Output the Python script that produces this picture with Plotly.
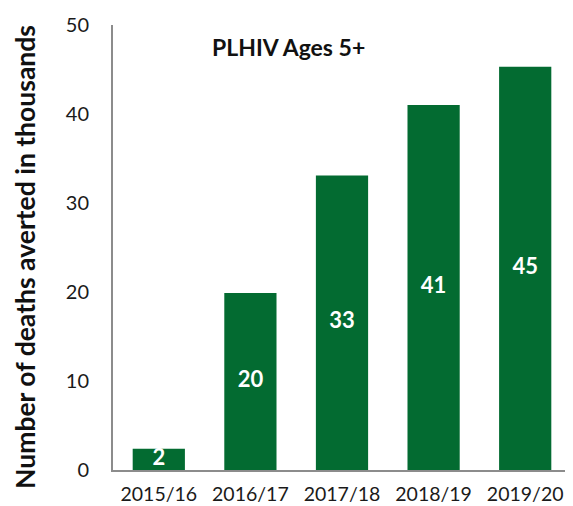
import plotly.graph_objects as go

categories = ["2015/16", "2016/17", "2017/18", "2018/19", "2019/20"]
values = [2.4, 19.9, 33.1, 41.0, 45.3]
labels = ["2", "20", "33", "41", "45"]
y_ticks = [0, 10, 20, 30, 40, 50]

GREEN = "#036B31"
FONT = "Lato, 'Open Sans', sans-serif"

fig = go.Figure()
fig.add_trace(go.Bar(x=categories, y=values, marker_color=GREEN, marker_line_width=0,
                     hoverinfo="skip"))
fig.add_trace(go.Scatter(x=categories, y=[v / 2 for v in values], mode="text", text=labels,
                         textfont=dict(family=FONT, size=22, color="white", weight="bold"),
                         textposition="middle center", hoverinfo="skip"))

# page body has an 8px margin, so the figure is sized 8px smaller
fig.update_layout(
    width=565, height=498,
    margin=dict(l=105, r=2, t=17, b=36),
    plot_bgcolor="white", paper_bgcolor="white",
    showlegend=False, bargap=0.43,
    font=dict(family=FONT, size=20, color="#1a1a1a"),
    xaxis=dict(showline=True, linecolor="#8c8c8c", linewidth=2, ticks="",
               tickfont=dict(size=19.5), ticklabelstandoff=6, showgrid=False,
               automargin=False),
    yaxis=dict(range=[0, 50], tickvals=y_ticks, showline=True, linecolor="#8c8c8c",
               linewidth=2, ticks="", showgrid=False, zeroline=False,
               tickfont=dict(size=20), ticklabelstandoff=18, automargin=False),
    annotations=[
        dict(text="<b>PLHIV Ages 5+</b>", xref="paper", yref="paper", x=0.212, y=0.95,
             xanchor="left", yanchor="middle", showarrow=False,
             font=dict(family=FONT, size=23, color="#111")),
        dict(text="<b>Number of deaths averted in thousands</b>", xref="paper", yref="paper",
             x=-0.192, y=0.479, xanchor="center", yanchor="middle", textangle=-90,
             showarrow=False, font=dict(family=FONT, size=26.5, color="#111")),
    ],
)

fig.write_html("out.html")
